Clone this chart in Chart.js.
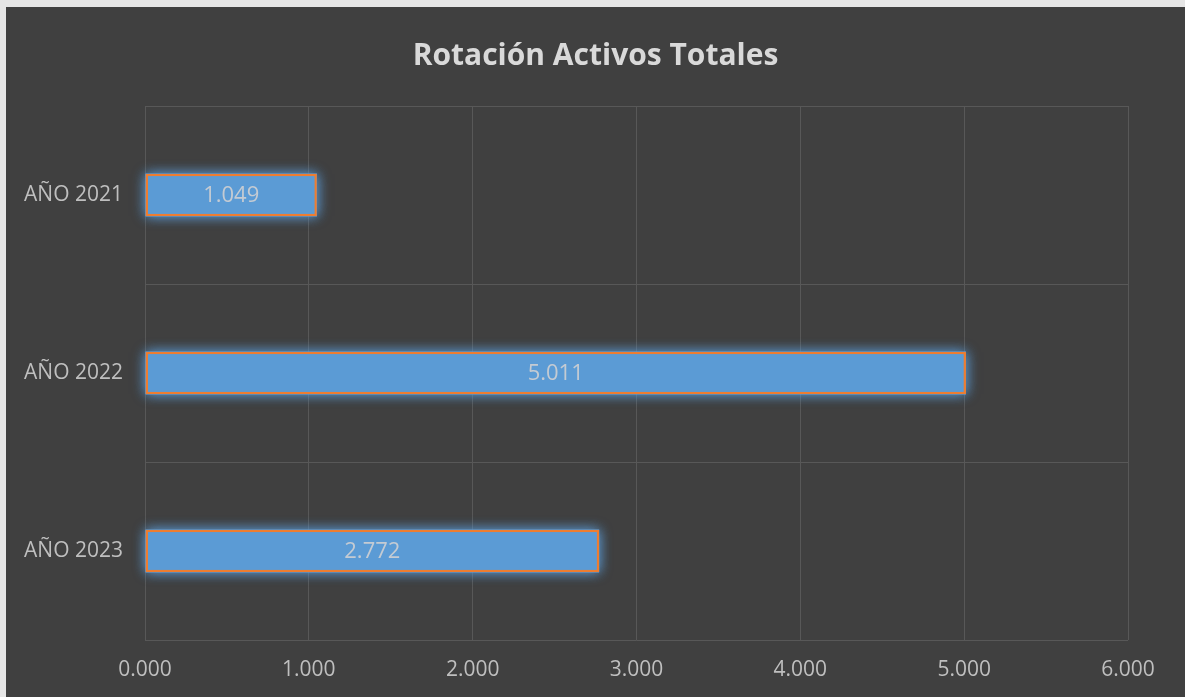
<!DOCTYPE html>
<html>
<head>
<meta charset="utf-8">
<script src="https://cdn.jsdelivr.net/npm/chart.js@4"></script>
<style>
  html, body { margin: 0; padding: 0; background: #e6e6e6; }
  #wrap { position: absolute; left: 6px; top: 7px; width: 1179px; height: 690px; background: #404040; }
</style>
</head>
<body>
<div id="wrap"><canvas id="myChart" width="1179" height="690"></canvas></div>
<script>
// Data
const chartTitle = 'Rotación Activos Totales';
const years = ['AÑO 2021', 'AÑO 2022', 'AÑO 2023'];
const rotation = [1.049, 5.011, 2.772];
const xTicks = [0, 1, 2, 3, 4, 5, 6];

const textColor = '#bfbfbf';
const gridColor = '#585858';
const fontFamily = '"Open Sans", sans-serif';

// soft blue glow behind the bars
const glowPlugin = {
    id: 'glow',
    beforeDatasetsDraw(chart) {
        const c = chart.ctx;
        const meta = chart.getDatasetMeta(0);
        c.save();
        c.shadowColor = 'rgba(91, 155, 213, 0.75)';
        c.shadowBlur = 12;
        c.fillStyle = '#5b9bd5';
        meta.data.forEach(bar => {
            const left = Math.min(bar.base, bar.x);
            const w = Math.abs(bar.x - bar.base);
            for (let k = 0; k < 2; k++) {
                c.fillRect(left, bar.y - bar.height / 2, w, bar.height);
            }
        });
        c.restore();
    }
};

// value labels centred in each bar
const valueLabels = {
    id: 'valueLabels',
    afterDatasetsDraw(chart) {
        const c = chart.ctx;
        const meta = chart.getDatasetMeta(0);
        c.save();
        c.font = '22px ' + fontFamily;
        c.fillStyle = '#c4cbd3';
        c.textAlign = 'center';
        c.textBaseline = 'middle';
        meta.data.forEach((bar, i) => {
            const mid = (bar.x + bar.base) / 2;
            c.fillText(rotation[i].toFixed(3), mid, bar.y + 1);
        });
        c.restore();
    }
};

// title centred on the whole canvas
const titlePlugin = {
    id: 'centerTitle',
    afterDraw(chart) {
        const c = chart.ctx;
        c.save();
        c.font = 'bold 30px ' + fontFamily;
        c.fillStyle = '#d9d9d9';
        c.textAlign = 'center';
        c.textBaseline = 'middle';
        c.fillText(chartTitle, chart.width / 2, 49);
        c.restore();
    }
};

const ctx = document.getElementById('myChart').getContext('2d');
new Chart(ctx, {
    type: 'bar',
    data: {
        labels: years,
        datasets: [{
            data: rotation,
            backgroundColor: '#5b9bd5',
            borderColor: '#ed7d31',
            borderWidth: 2.5,
            borderSkipped: false,
            barPercentage: 0.24,
            categoryPercentage: 1
        }]
    },
    options: {
        indexAxis: 'y',
        responsive: false,
        animation: false,
        layout: { padding: { left: 0, right: 57, top: 99, bottom: 0 } },
        scales: {
            x: {
                min: 0,
                max: 6,
                afterBuildTicks: axis => { axis.ticks = xTicks.map(v => ({ value: v })); },
                afterFit: axis => { axis.height = 57; },
                grid: { color: gridColor, lineWidth: 1, drawTicks: false },
                border: { display: false },
                ticks: {
                    color: textColor,
                    padding: 17,
                    font: { size: 21, family: fontFamily },
                    callback: v => Number(v).toFixed(3)
                }
            },
            y: {
                afterFit: axis => { axis.width = 139; },
                grid: { color: gridColor, lineWidth: 1, drawTicks: false },
                border: { display: false },
                ticks: {
                    color: textColor,
                    padding: 22,
                    font: { size: 21, family: fontFamily }
                }
            }
        },
        plugins: {
            legend: { display: false },
            tooltip: { enabled: false },
            title: { display: false }
        }
    },
    plugins: [glowPlugin, valueLabels, titlePlugin]
});
</script>
</body>
</html>
